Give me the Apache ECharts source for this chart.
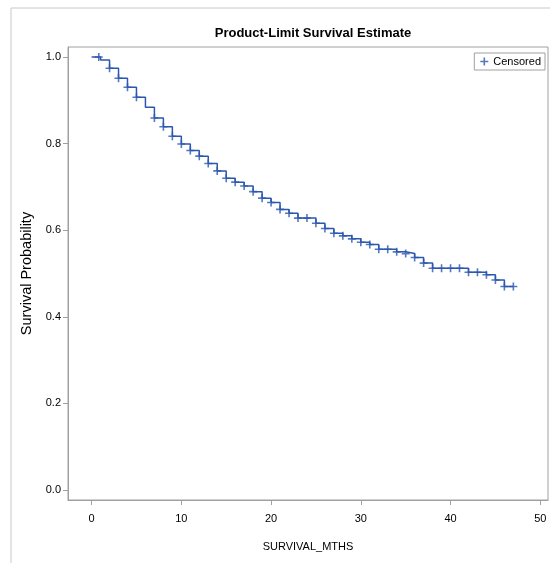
<!DOCTYPE html>
<html>
<head>
<meta charset="utf-8">
<script src="https://cdn.jsdelivr.net/npm/echarts@6/dist/echarts.min.js"></script>
<style>
html,body{margin:0;padding:0;background:#fff;}
#chart{width:550px;height:563px;}
</style>
</head>
<body>
<div id="chart"></div>
<script>
// Event times (months) and Kaplan-Meier survival after each event
const eventTimes = [0,1,2,3,4,5,6,7,8,9,10,11,12,13,14,15,16,17,18,19,20,21,22,23,25,26,27,28,29,30,31,32,34,35,36,37,38,42,44,45,46];
const survival = [1.000,0.993,0.974,0.951,0.930,0.907,0.884,0.859,0.839,0.817,0.799,0.784,0.771,0.754,0.737,0.720,0.711,0.702,0.689,0.674,0.664,0.648,0.639,0.628,0.616,0.604,0.593,0.587,0.580,0.572,0.567,0.556,0.550,0.546,0.537,0.524,0.512,0.503,0.497,0.485,0.470];
const lastTime = 47;
// Censored observation times
const censorTimes = [0.8,2,3,4,5,7,8,9,10,11,12,13,14,15,16,17,18,19,20,21,22,23,24,25,26,27,28,29,30,31,32,33,34,35,36,37,38,39,40,41,42,43,44,45,46,47];
const xTicks = [0,10,20,30,40,50];
const yTicks = [0,0.2,0.4,0.6,0.8,1.0];

function survAt(t){
  let s = 1;
  for (let i=0;i<eventTimes.length;i++){ if (eventTimes[i] <= t) s = survival[i]; }
  return s;
}
const lineData = eventTimes.map((t,i)=>[t, survival[i]]);
lineData.push([lastTime, survAt(lastTime)]);
const censorData = censorTimes.map(t=>[t, survAt(t)]);

const FONT = '"Liberation Sans",Arial,sans-serif';
const plus = 'path://M4,0h2v4h4v2h-4v4h-2v-4h-4v-2h4z';
const blue = '#2B57AE';
const gray = '#A0A0A0';

const chart = echarts.init(document.getElementById('chart'));
chart.setOption({
  animation:false,
  backgroundColor:'#fff',
  title:{
    text:'Product-Limit Survival Estimate',
    left:308, textAlign:'center', top:22,
    textStyle:{fontFamily:FONT, fontSize:13, fontWeight:'bold', color:'#000'}
  },
  graphic:[{type:'rect', shape:{x:11, y:8, width:600, height:600}, style:{fill:'none', stroke:'#C8C8C8', lineWidth:1}, silent:true}],
  legend:{
    data:[{name:'Censored', icon:plus}],
    right:5, top:53, orient:'horizontal',
    borderColor:gray, borderWidth:1, padding:[3,4,3,6],
    itemWidth:8, itemHeight:8, itemGap:4,
    textStyle:{fontFamily:FONT, fontSize:11, color:'#000'}
  },
  grid:{left:68, right:2, top:47, bottom:63, show:true, borderColor:gray, borderWidth:1},
  xAxis:{
    type:'value', min:-2.63, max:50.86,
    name:'SURVIVAL_MTHS', nameLocation:'middle', nameGap:41,
    nameTextStyle:{fontFamily:FONT, fontSize:11, color:'#000'},
    axisLine:{show:true, onZero:false, lineStyle:{color:gray}},
    axisTick:{show:true, inside:false, length:5, customValues:xTicks, lineStyle:{color:gray}},
    axisLabel:{customValues:xTicks, margin:13, fontFamily:FONT, fontSize:11, color:'#000'},
    splitLine:{show:false}
  },
  yAxis:{
    type:'value', min:-0.0231, max:1.0231,
    name:'Survival Probability', nameLocation:'middle', nameGap:33,
    nameTextStyle:{fontFamily:FONT, fontSize:14.5, color:'#000'},
    axisLine:{show:true, onZero:false, lineStyle:{color:gray}},
    axisTick:{show:true, inside:false, length:5, customValues:yTicks, lineStyle:{color:gray}},
    axisLabel:{customValues:yTicks, margin:7, fontFamily:FONT, fontSize:11, color:'#000',
      formatter:v=>v.toFixed(1)},
    splitLine:{show:false}
  },
  series:[
    {type:'line', name:'Survival', step:'end', data:lineData, showSymbol:false,
      lineStyle:{color:blue, width:1.5}, itemStyle:{color:blue}, silent:true},
    {type:'scatter', name:'Censored', data:censorData, symbol:plus, symbolSize:8,
      itemStyle:{color:blue}, silent:true}
  ]
});
</script>
</body>
</html>
